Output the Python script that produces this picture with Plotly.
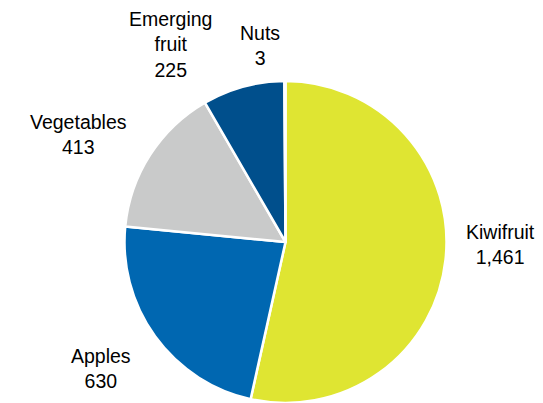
import plotly.graph_objects as go

# Production by category
categories = ["Kiwifruit", "Apples", "Vegetables", "Emerging fruit", "Nuts"]
values = [1461, 630, 413, 225, 3]
colors = ["#DFE532", "#0067B1", "#C9CACA", "#004F8C", "#7FA7CF"]

# Label text lines (category name split where it wraps) and label centres in pixels
label_lines = {
    "Kiwifruit": ["Kiwifruit"],
    "Apples": ["Apples"],
    "Vegetables": ["Vegetables"],
    "Emerging fruit": ["Emerging", "fruit"],
    "Nuts": ["Nuts"],
}
label_pos = {
    "Kiwifruit": (500, 245),
    "Apples": (101, 368),
    "Vegetables": (78, 135),
    "Emerging fruit": (171, 44),
    "Nuts": (260, 45),
}

W, H = 543, 403

fig = go.Figure(
    go.Pie(
        labels=categories,
        values=values,
        marker=dict(colors=colors, line=dict(color="white", width=2.5)),
        sort=False,
        direction="clockwise",
        rotation=0,
        textinfo="none",
        hoverinfo="label+value",
        showlegend=False,
        domain=dict(x=[124 / W, 447 / W], y=[0, 322 / H]),
    )
)

for cat, val in zip(categories, values):
    px, py = label_pos[cat]
    text = "<br>".join(label_lines[cat] + [f"{val:,}"])
    fig.add_annotation(
        text=text,
        x=px / W,
        y=1 - py / H,
        xref="paper",
        yref="paper",
        xanchor="center",
        yanchor="middle",
        showarrow=False,
        align="center",
        font=dict(family="Liberation Sans, Arial, sans-serif", size=19.5, color="#000000"),
    )

fig.update_layout(
    width=W,
    height=H,
    margin=dict(l=0, r=0, t=0, b=0),
    paper_bgcolor="white",
    plot_bgcolor="white",
)

fig.write_html("out.html")
